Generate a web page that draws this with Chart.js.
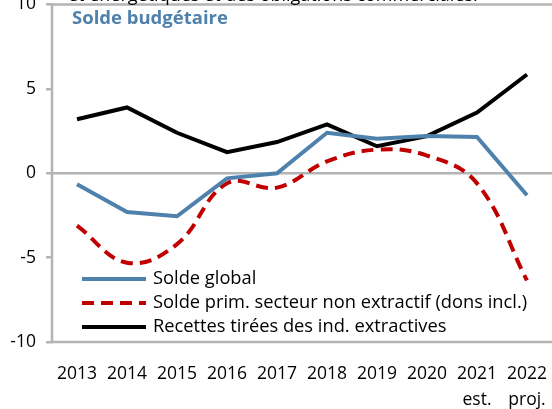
<!DOCTYPE html>
<html>
<head>
<meta charset="utf-8">
<script src="https://cdn.jsdelivr.net/npm/chart.js@4"></script>
<style>
  html, body { margin: 0; padding: 0; background: #fff; overflow: hidden; }
  #wrap { position: relative; width: 552px; height: 409px; overflow: hidden; }
  #myChart { position: absolute; left: 0; top: -16px; }
  #topnote { position: absolute; left: 68px; top: -18px; font: 18px "Open Sans", sans-serif; color: #000; white-space: nowrap; }
</style>
</head>
<body>
<div id="wrap">
  <canvas id="myChart" width="566" height="425"></canvas>
  <div id="topnote">et énergétiques et des obligations commerciales.</div>
</div>
<script>
// années (les deux dernières avec mention)
const years = [['2013'], ['2014'], ['2015'], ['2016'], ['2017'], ['2018'], ['2019'], ['2020'], ['2021', 'est.'], ['2022', 'proj.']];
const soldeGlobal = [-0.65, -2.3, -2.55, -0.3, 0.0, 2.4, 2.05, 2.2, 2.15, -1.3];
const soldePrim = [-3.1, -5.3, -4.2, -0.6, -0.85, 0.7, 1.4, 1.05, -0.6, -6.35];
const recettesExtr = [3.2, 3.9, 2.4, 1.25, 1.85, 2.9, 1.6, 2.2, 3.6, 5.85];
const yTicks = [-10, -5, 0, 5, 10];

const fontFam = '"Open Sans", sans-serif';
const gray = '#b4b4b4';

// cadre, sous-titre et légende dans la zone du graphique
const insidePlugin = {
    id: 'inside',
    beforeDatasetsDraw(chart) {
        const a = chart.chartArea;
        const c = chart.ctx;
        c.save();
        c.strokeStyle = gray;
        c.lineWidth = 2.5;
        c.beginPath();
        c.moveTo(a.right + 5, a.top);
        c.lineTo(a.left, a.top);
        c.lineTo(a.left, a.bottom);
        c.lineTo(a.right + 5, a.bottom);
        c.stroke();
        c.restore();
    },
    afterDraw(chart) {
        const a = chart.chartArea;
        const c = chart.ctx;
        c.save();
        c.font = 'bold 18.5px ' + fontFam;
        c.fillStyle = '#4f81ad';
        c.textBaseline = 'middle';
        c.fillText('Solde budgétaire', a.left + 20, a.top + 14);

        c.font = '18.3px ' + fontFam;
        c.fillStyle = '#000';
        chart.data.datasets.forEach((ds, i) => {
            const y = a.bottom - 63 + i * 24;
            c.strokeStyle = ds.borderColor;
            c.lineWidth = ds.borderWidth;
            c.setLineDash(ds.borderDash || []);
            c.beginPath();
            c.moveTo(a.left + 30, y);
            c.lineTo(a.left + 94, y);
            c.stroke();
            c.setLineDash([]);
            c.fillText(ds.label, a.left + 101, y);
        });
        c.restore();
    }
};

var ctx = document.getElementById('myChart');
var myChart = new Chart(ctx, {
    type: 'line',
    data: {
        labels: years,
        datasets: [
            {
                label: 'Solde global',
                data: soldeGlobal,
                borderColor: '#4f81ad',
                borderWidth: 4,
                pointRadius: 0,
                tension: 0
            },
            {
                label: 'Solde prim. secteur non extractif (dons incl.)',
                data: soldePrim,
                borderColor: '#c00000',
                borderWidth: 4,
                borderDash: [12, 7],
                pointRadius: 0,
                tension: 0.4
            },
            {
                label: 'Recettes tirées des ind. extractives',
                data: recettesExtr,
                borderColor: '#000000',
                borderWidth: 4,
                pointRadius: 0,
                tension: 0
            }
        ]
    },
    options: {
        responsive: false,
        animation: false,
        layout: { padding: { top: 5, right: 0, left: 0, bottom: 0 } },
        plugins: {
            legend: { display: false },
            tooltip: { enabled: false }
        },
        scales: {
            x: {
                offset: true,
                grid: { display: false, drawTicks: false },
                border: { display: false },
                ticks: {
                    color: '#000',
                    font: { family: fontFam, size: 17.5, lineHeight: 1.5 },
                    padding: 19,
                    maxRotation: 0,
                    autoSkip: false
                },
                afterFit(scale) { scale.height = 67; }
            },
            y: {
                min: -10,
                max: 10,
                afterBuildTicks(scale) { scale.ticks = yTicks.map(v => ({ value: v })); },
                grid: {
                    color: ctx => ctx.tick && ctx.tick.value === 0 ? gray : 'rgba(0,0,0,0)',
                    lineWidth: 2.5,
                    tickColor: gray,
                    tickLength: 6
                },
                border: { display: false },
                ticks: {
                    color: '#000',
                    font: { family: fontFam, size: 17.5 },
                    padding: 10
                },
                afterFit(scale) { scale.width = 52; }
            }
        }
    },
    plugins: [insidePlugin]
});
</script>
</body>
</html>
